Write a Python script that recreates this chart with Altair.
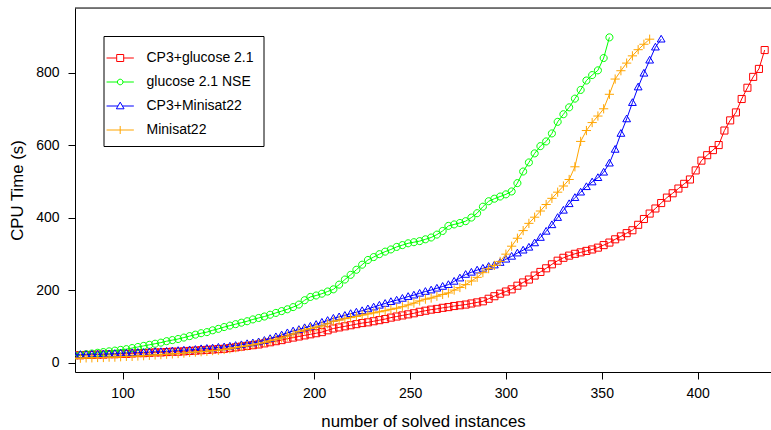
import altair as alt
import pandas as pd

series_names = ["CP3+glucose 2.1", "glucose 2.1 NSE", "CP3+Minisat22", "Minisat22"]
series_colors = ["#FF0000", "#00FF00", "#0000FF", "#FFA500"]

x_start = 75
x_step = 3

red_y = [20,20,21,21,22,22,23,23,24,24,
         25,26,26,27,28,28,29,30,30,31,
         32,33,34,35,36,37,38,40,42,44,
         46,48,50,53,56,59,62,66,69,72,
         75,78,81,84,89,94,97,100,103,106,
         109,111,114,117,120,124,127,130,133,136,
         140,143,146,148,151,153,156,158,160,163,
         166,169,176,183,190,196,202,212,221,229,
         240,250,260,271,281,289,295,300,304,308,
         312,317,324,331,340,348,357,365,380,396,
         411,425,440,455,467,480,493,505,530,557,
         572,586,600,640,668,690,727,758,788,810,
         862]
green_y = [19,21,23,25,27,29,31,33,35,37,
           40,43,46,49,52,55,59,62,65,69,
           73,77,81,84,89,93,98,102,106,110,
           114,119,123,127,132,137,142,147,153,160,
           172,181,185,190,196,202,215,229,242,256,
           270,283,291,299,306,312,319,324,329,332,
           335,340,345,353,363,377,381,385,390,400,
           412,430,445,452,458,464,472,495,527,552,
           577,597,610,632,664,685,704,728,752,778,
           793,806,840,897]
blue_y = [21,22,22,23,23,24,24,25,26,26,
          27,28,28,29,30,30,31,32,33,34,
          35,36,38,39,40,42,43,45,47,49,
          52,54,57,61,66,71,76,82,87,91,
          96,100,105,111,116,122,126,130,135,139,
          143,148,153,158,163,168,172,177,182,186,
          191,196,200,205,210,215,224,233,243,249,
          255,260,265,269,276,285,293,302,310,318,
          330,345,362,380,400,420,438,455,470,485,
          498,510,525,550,588,632,672,717,760,798,
          834,870,892]
orange_y = [12,12,13,13,14,14,15,15,16,17,
            17,18,19,20,21,22,23,24,25,26,
            28,29,30,31,33,34,36,38,41,44,
            46,49,52,56,60,64,68,73,79,86,
            90,94,98,101,107,114,117,121,124,127,
            131,134,137,140,143,147,150,154,159,164,
            170,175,178,183,188,192,200,207,215,225,
            235,248,259,268,279,299,321,343,364,384,
            401,418,436,453,470,487,505,540,610,640,
            662,680,700,740,782,805,826,846,863,878,
            892]

x_ticks = [100, 150, 200, 250, 300, 350, 400]
y_ticks = [0, 200, 400, 600, 800]

marker_paths = [
    "M-1,-1H1V1H-1Z",
    "M1,0A1,1,0,1,1,-1,0A1,1,0,1,1,1,0Z",
    "M0,-1.1L1.1,0.8H-1.1Z",
    "M-1.15,0H1.15M0,-1.15V1.15",
]
legend_paths = [
    "M-3.9,0H-1M1,0H3.9M-1,-1H1V1H-1Z",
    "M-3.9,0H-0.8M0.8,0H3.9M0.8,0A0.8,0.8,0,1,1,-0.8,0A0.8,0.8,0,1,1,0.8,0Z",
    "M-3.9,0H-0.6M0.6,0H3.9M0,-1.1L1.1,0.8H-1.1Z",
    "M-3.9,0H3.9M0,-1.15V1.15",
]

all_y = [red_y, green_y, blue_y, orange_y]
rows = []
for name, ys in zip(series_names, all_y):
    for i, v in enumerate(ys):
        rows.append({"series": name, "x": x_start + x_step * i, "y": v})
df = pd.DataFrame(rows)

xscale = alt.Scale(domain=[75.2, 438.3], nice=False, zero=False)
yscale = alt.Scale(domain=[-26, 978], nice=False, zero=False)

xenc = alt.X("x:Q", scale=xscale,
             axis=alt.Axis(values=x_ticks, title="number of solved instances",
                           grid=False, tickSize=7, labelPadding=7.5, titlePadding=12.5,
                           labelFontSize=14, titleFontSize=16.8, titleFontWeight="normal",
                           domainColor="black", tickColor="black", labelColor="black",
                           titleColor="black"))
yenc = alt.Y("y:Q", scale=yscale,
             axis=alt.Axis(values=y_ticks, title="CPU Time (s)",
                           grid=False, tickSize=7, labelPadding=9, titlePadding=9,
                           labelFontSize=14, titleFontSize=16.8, titleFontWeight="normal",
                           domainColor="black", tickColor="black", labelColor="black",
                           titleColor="black"))

layers = []
for name, col, path in zip(series_names, series_colors, marker_paths):
    sub = df[df["series"] == name]
    line = alt.Chart(sub).mark_line(color=col, strokeWidth=1, clip=True).encode(x=xenc, y=yenc)
    size = 64 if name == "Minisat22" else 50
    pts = alt.Chart(sub).mark_point(shape=path, filled=False, color=col, size=size,
                                    strokeWidth=1, opacity=1, clip=True).encode(x=xenc, y=yenc)
    layers += [line, pts]

legend_df = df.groupby("series", sort=False).head(1)
legend_layer = alt.Chart(legend_df).mark_point(filled=False, clip=True, strokeWidth=1, opacity=1).encode(
    x=alt.value(-200), y=alt.value(-200),
    color=alt.Color("series:N", scale=alt.Scale(domain=series_names, range=series_colors),
                    legend=alt.Legend(title=" ")),
    shape=alt.Shape("series:N", scale=alt.Scale(domain=series_names, range=legend_paths),
                    legend=alt.Legend(title=" ")),
)

top_rule = alt.Chart(pd.DataFrame({"k": [0]})).mark_rule(color="black", strokeWidth=1).encode(
    x=alt.value(0), x2=alt.value(700), y=alt.value(0))

chart = alt.layer(*layers, legend_layer, top_rule).properties(
    width=696, height=364,
    padding={"left": 75, "top": 8, "right": 0, "bottom": 58},
    autosize="none",
).configure_view(stroke=None).configure(
    font="Liberation Sans", background="white"
).configure_legend(
    orient="none", legendX=28.5, legendY=28,
    strokeColor="black", padding=9, symbolOffset=0.7, labelOffset=19.3,
    symbolSize=49, symbolStrokeWidth=1, labelFontSize=14, labelColor="black",
    rowPadding=10, fillColor="white", labelFont="Liberation Sans",
    titleFontSize=1, titlePadding=5,
)

chart.save("out.html", embed_options={"renderer": "svg", "actions": False})
